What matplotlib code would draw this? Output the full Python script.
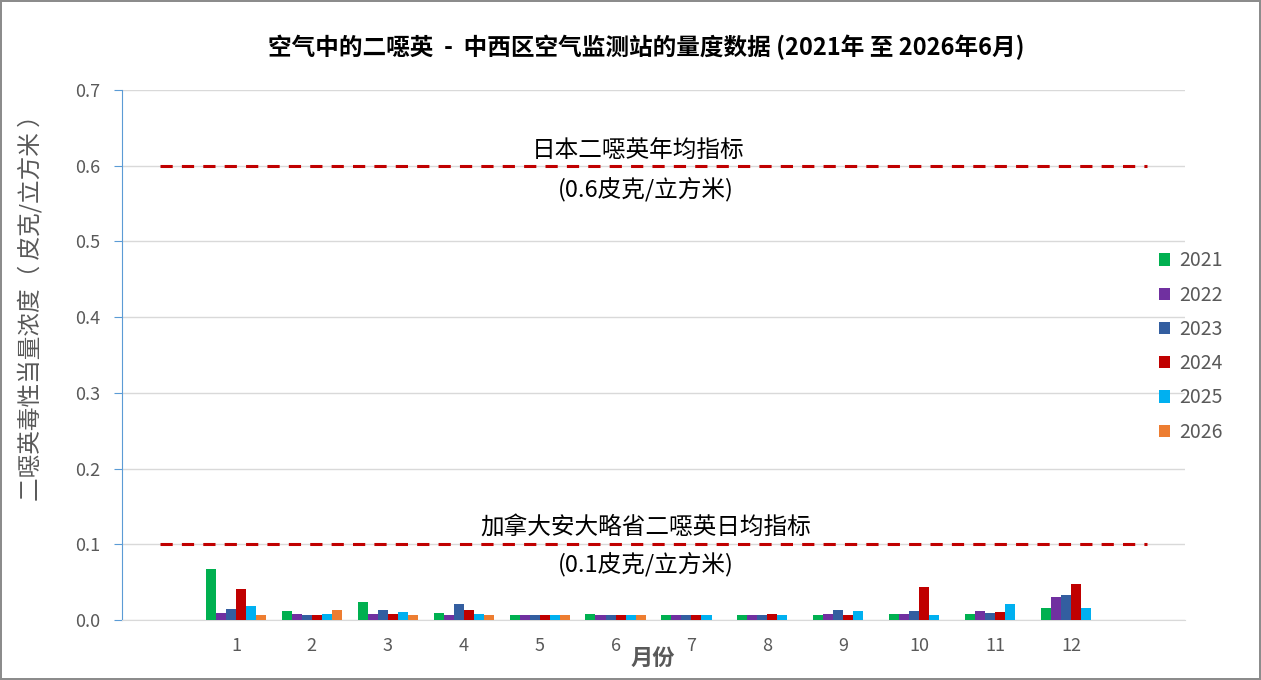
import numpy as np
import matplotlib.pyplot as plt

plt.rcParams['font.family'] = ['Noto Sans CJK SC', 'DejaVu Sans']

# data (pg/m3, TEQ)
months = ['1', '2', '3', '4', '5', '6', '7', '8', '9', '10', '11', '12']
years = ['2021', '2022', '2023', '2024', '2025', '2026']
v2021 = [0.068, 0.012, 0.024, 0.0093, 0.0067, 0.008, 0.0067, 0.0067, 0.0067, 0.008, 0.008, 0.016]
v2022 = [0.0093, 0.008, 0.008, 0.0067, 0.0067, 0.0067, 0.0067, 0.0067, 0.008, 0.008, 0.012, 0.0307]
v2023 = [0.0147, 0.0067, 0.0133, 0.0213, 0.0067, 0.0067, 0.0067, 0.0067, 0.0133, 0.012, 0.0093, 0.0333]
v2024 = [0.041, 0.0067, 0.008, 0.0133, 0.0067, 0.0067, 0.0067, 0.008, 0.0067, 0.044, 0.0107, 0.048]
v2025 = [0.0187, 0.008, 0.0107, 0.008, 0.0067, 0.0067, 0.0067, 0.0067, 0.012, 0.0067, 0.0213, 0.016]
v2026 = [0.0067, 0.0133, 0.0067, 0.0067, 0.0067, 0.0067]
japan_limit = 0.6
ontario_limit = 0.1

colors = ['#00B050', '#7030A0', '#335EA0', '#C00000', '#00B0F0', '#ED7D31']
series = [v2021, v2022, v2023, v2024, v2025, v2026]

fig = plt.figure(figsize=(12.61, 6.80), dpi=100)
fig.patch.set_edgecolor('#8C8C8C')
fig.patch.set_linewidth(1.5)
ax = fig.add_axes([122 / 1261, 60 / 680, 1063 / 1261, 530 / 680])

w = 0.132
for i, (vals, c, yr) in enumerate(zip(series, colors, years)):
    x = np.arange(1, len(vals) + 1) + (i - 2.5) * w
    ax.bar(x, vals, width=w, color=c, label=yr, zorder=3)

# limit lines span the padded category range 0..13
xl = np.arange(0, 14)
ax.plot(xl, [japan_limit] * len(xl), color='#C00000', lw=2.2, ls=(0, (4, 3)), zorder=4)
ax.plot(xl, [ontario_limit] * len(xl), color='#C00000', lw=2.2, ls=(0, (4, 3)), zorder=4)

ax.text(6.3, 0.604, '日本二噁英年均指标', ha='center', va='bottom', fontsize=17, color='#000000')
ax.text(6.4, 0.586, '(0.6皮克/立方米)', ha='center', va='top', fontsize=17, color='#000000')
ax.text(6.4, 0.107, '加拿大安大略省二噁英日均指标', ha='center', va='bottom', fontsize=17, color='#000000')
ax.text(6.4, 0.09, '(0.1皮克/立方米)', ha='center', va='top', fontsize=17, color='#000000')

ax.set_xlim(-0.5, 13.5)
ax.set_ylim(0, 0.7)
ax.set_yticks(np.arange(0, 0.71, 0.1))
ax.set_yticklabels(['%.1f' % t for t in np.arange(0, 0.71, 0.1)])
ax.set_xticks(np.arange(1, 13))
ax.set_xticklabels(months)
ax.tick_params(axis='x', length=0, labelsize=13, labelcolor='#595959', pad=12)
ax.tick_params(axis='y', length=6, color='#5B9BD5', labelsize=13, labelcolor='#595959', pad=10)
ax.grid(axis='y', color='#D9D9D9', lw=1, zorder=0)
for s in ['top', 'right']:
    ax.spines[s].set_visible(False)
ax.spines['bottom'].set_color('#D9D9D9')
ax.spines['left'].set_color('#5B9BD5')

fig.text(646 / 1261, 1 - 47 / 680, '空气中的二噁英  -  中西区空气监测站的量度数据 (2021年 至 2026年6月)',
         ha='center', va='center', fontsize=17, fontweight='bold')
fig.text(653 / 1261, 1 - 658 / 680, '月份', ha='center', va='center', fontsize=16,
         color='#595959', fontweight='bold')
fig.text(30 / 1261, 1 - 302 / 680, '二噁英毒性当量浓度（ 皮克/立方米 ）', rotation=90,
         ha='center', va='center', fontsize=17, color='#595959')

ax.legend(loc='upper left', bbox_to_anchor=(1141 / 1261, 1 - 233 / 680), bbox_transform=fig.transFigure,
          frameon=False, fontsize=14, labelspacing=0.68, handlelength=0.6, handleheight=0.6,
          handletextpad=0.45, labelcolor='#595959')

fig.savefig('out.png', dpi=100, edgecolor=fig.get_edgecolor())
